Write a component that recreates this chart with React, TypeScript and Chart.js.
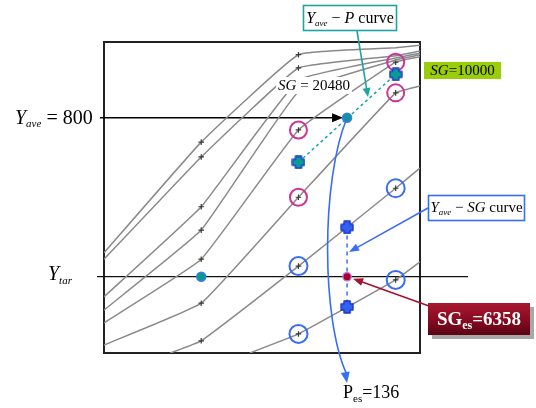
import React, { useEffect, useRef } from "react";
import { Chart, registerables } from "chart.js";

Chart.register(...registerables);

// ---- data -------------------------------------------------------------
// P columns of the experiment grid and the plotted ranges
const pColumns = [112, 128, 144];
const pAxisRange = [96, 148];
const yAxisRange = [356, 943];
const yAve = 800;
const yTar = 500;
const pEs = 136;
const sgTopLabel = "20480";
const sgMidLabel = "10000";
const sgEsValue = "6358";

// grey Y–P curves (one per SG value), points as [P, Y]
const curveA = [[96, 545], [112, 754], [128, 919], [144, 932], [148, 937]];
const curveB = [[96, 533], [112, 726], [128, 894], [144, 917], [148, 926]];
const curveC = [[96, 462], [112, 632], [128, 871], [144, 913], [148, 922]];
const curveD = [[96, 437], [112, 588], [128, 849], [144, 909], [148, 919]];
const curveE = [[96, 413], [112, 533], [128, 777], [144, 905], [148, 915]];
const curveF = [[96, 371], [112, 450], [128, 650], [144, 847], [148, 860]];
const curveG = [[106.9, 356], [112, 379], [128, 520], [144, 667], [148, 705]];
const curveH = [[120, 356], [128, 392], [144, 494], [148, 528]];
const greyCurves = [curveA, curveB, curveC, curveD, curveE, curveF, curveG, curveH];
// which P columns carry a visible "+" mark on each curve
const curveMarks = [
  [112, 128],
  [112, 128],
  [112],
  [112],
  [112, 128, 144],
  [112, 128, 144],
  [112, 128, 144],
  [128, 144],
];

// interpolated curves and marked points
const yAvePCurve = [[128, 716], [144, 882]];
const yAveSgCurve = [[136, 593], [136, 443]];
const pinkMarked = [[128, 777], [128, 650], [144, 905], [144, 847]];
const blueMarked = [[128, 520], [128, 392], [144, 667], [144, 494]];
const tealDots = [[pEs, yAve], [112, yTar]];
const sgEsDot = [[pEs, yTar]];

// ---- helpers ----------------------------------------------------------
const SERIF = '"Liberation Serif", "Times New Roman", "DejaVu Serif", serif';
const fnt = (size: number, style = "") => `${style} ${size}px ${SERIF}`.trim();
type Part = { t: string; f: string; dy?: number };

function richWidth(ctx: CanvasRenderingContext2D, parts: Part[]) {
  let w = 0;
  for (const p of parts) {
    ctx.font = p.f;
    w += ctx.measureText(p.t).width;
  }
  return w;
}
function drawRich(ctx: CanvasRenderingContext2D, parts: Part[], x: number, y: number, color: string) {
  ctx.fillStyle = color;
  ctx.textAlign = "left";
  ctx.textBaseline = "alphabetic";
  let cx = x;
  for (const p of parts) {
    ctx.font = p.f;
    ctx.fillText(p.t, cx, y + (p.dy || 0));
    cx += ctx.measureText(p.t).width;
  }
}
function arrowHead(ctx: CanvasRenderingContext2D, x1: number, y1: number, x2: number, y2: number, len: number, hw: number, color: string) {
  const a = Math.atan2(y2 - y1, x2 - x1);
  const bx = x2 - len * Math.cos(a);
  const by = y2 - len * Math.sin(a);
  ctx.beginPath();
  ctx.moveTo(x2, y2);
  ctx.lineTo(bx + hw * Math.sin(a), by - hw * Math.cos(a));
  ctx.lineTo(bx - hw * Math.sin(a), by + hw * Math.cos(a));
  ctx.closePath();
  ctx.fillStyle = color;
  ctx.fill();
}
function arrow(ctx: CanvasRenderingContext2D, x1: number, y1: number, x2: number, y2: number, color: string, w: number, len: number, hw: number) {
  const a = Math.atan2(y2 - y1, x2 - x1);
  ctx.beginPath();
  ctx.moveTo(x1, y1);
  ctx.lineTo(x2 - (len - 1) * Math.cos(a), y2 - (len - 1) * Math.sin(a));
  ctx.strokeStyle = color;
  ctx.lineWidth = w;
  ctx.setLineDash([]);
  ctx.stroke();
  arrowHead(ctx, x1, y1, x2, y2, len, hw, color);
}
function plusCanvas(fill: string, stroke: string) {
  const s = 14;
  const c = document.createElement("canvas");
  c.width = s;
  c.height = s;
  const g = c.getContext("2d")!;
  const m = s / 2;
  const arm = 6.2 / 2;
  const r = 6;
  g.beginPath();
  g.moveTo(m - arm, m - r);
  g.lineTo(m + arm, m - r);
  g.lineTo(m + arm, m - arm);
  g.lineTo(m + r, m - arm);
  g.lineTo(m + r, m + arm);
  g.lineTo(m + arm, m + arm);
  g.lineTo(m + arm, m + r);
  g.lineTo(m - arm, m + r);
  g.lineTo(m - arm, m + arm);
  g.lineTo(m - r, m + arm);
  g.lineTo(m - r, m - arm);
  g.lineTo(m - arm, m - arm);
  g.closePath();
  g.fillStyle = fill;
  g.fill();
  g.lineJoin = "round";
  g.lineWidth = 1.3;
  g.strokeStyle = stroke;
  g.stroke();
  return c;
}
const toXY = (arr: number[][]) => arr.map(([x, y]) => ({ x, y }));

// ---- annotation plugin ------------------------------------------------
const overlayPlugin = {
  id: "overlay",
  beforeDatasetsDraw(chart: any) {
    const { ctx, chartArea: a, scales } = chart;
    const X = (v: number) => scales.x.getPixelForValue(v);
    const Y = (v: number) => scales.y.getPixelForValue(v);
    ctx.save();
    // frame
    ctx.strokeStyle = "#222";
    ctx.lineWidth = 2;
    ctx.strokeRect(a.left, a.top, a.right - a.left, a.bottom - a.top);
    // Y_tar line
    ctx.beginPath();
    ctx.moveTo(a.left - 7, Y(yTar));
    ctx.lineTo(a.right + 48, Y(yTar));
    ctx.strokeStyle = "#111";
    ctx.lineWidth = 1.3;
    ctx.stroke();
    // Y_ave arrow
    arrow(ctx, a.left - 4, Y(yAve), X(pEs) - 4, Y(yAve), "#000", 1.6, 11, 4.5);
    ctx.restore();
  },
  afterDatasetsDraw(chart: any) {
    const { ctx, chartArea: a, scales } = chart;
    const X = (v: number) => scales.x.getPixelForValue(v);
    const Y = (v: number) => scales.y.getPixelForValue(v);
    ctx.save();

    // left labels
    drawRich(ctx, [
      { t: "Y", f: fnt(20, "italic") },
      { t: "ave", f: fnt(11, "italic"), dy: 3 },
      { t: " = 800", f: fnt(20) },
    ], 15, Y(yAve) + 6, "#000");
    drawRich(ctx, [
      { t: "Y", f: fnt(20, "italic") },
      { t: "tar", f: fnt(11, "italic"), dy: 4 },
    ], 48, Y(yTar) + 3, "#000");

    // SG = 20480 label with white background
    const sgTop: Part[] = [
      { t: "SG", f: fnt(15, "italic") },
      { t: " = " + sgTopLabel, f: fnt(15) },
    ];
    const wTop = richWidth(ctx, sgTop);
    ctx.fillStyle = "#fff";
    ctx.fillRect(314 - wTop / 2 - 2, 77, wTop + 4, 17);
    drawRich(ctx, sgTop, 314 - wTop / 2, 90, "#000");

    // Y_ave – P curve box
    const teal = "#1fa3a3";
    ctx.fillStyle = "#fff";
    ctx.fillRect(303, 5, 94, 25);
    ctx.strokeStyle = teal;
    ctx.lineWidth = 1.6;
    ctx.strokeRect(303.5, 5.5, 93, 25);
    const tealParts: Part[] = [
      { t: "Y", f: fnt(16, "italic") },
      { t: "ave", f: fnt(9, "italic"), dy: 3 },
      { t: " \u2212 ", f: fnt(16) },
      { t: "P", f: fnt(16, "italic") },
      { t: " curve", f: fnt(16) },
    ];
    drawRich(ctx, tealParts, 350 - richWidth(ctx, tealParts) / 2, 23, "#000");
    arrow(ctx, 357, 31, 368, 97, teal, 1.6, 9, 4);

    // SG = 10000 green tag
    ctx.fillStyle = "#9acd0a";
    ctx.fillRect(424, 62, 77, 17);
    const greenParts: Part[] = [
      { t: "SG", f: fnt(15, "italic") },
      { t: "=" + sgMidLabel, f: fnt(15) },
    ];
    drawRich(ctx, greenParts, 462.5 - richWidth(ctx, greenParts) / 2, 75, "#000");

    // Y_ave – SG curve box
    const blue = "#3a6cf4";
    ctx.fillStyle = "#fff";
    ctx.fillRect(428, 195, 97, 25);
    ctx.strokeStyle = blue;
    ctx.lineWidth = 1.6;
    ctx.strokeRect(428.5, 195.5, 96, 25);
    const blueParts: Part[] = [
      { t: "Y", f: fnt(15, "italic") },
      { t: "ave", f: fnt(9, "italic"), dy: 3 },
      { t: " \u2212 ", f: fnt(15) },
      { t: "SG", f: fnt(15, "italic") },
      { t: " curve", f: fnt(15) },
    ];
    drawRich(ctx, blueParts, 476.5 - richWidth(ctx, blueParts) / 2, 212, "#000");
    arrow(ctx, 428, 208, X(pEs) + 2, 252, blue, 1.5, 10, 4);

    // SG_es = 6358 box
    ctx.fillStyle = "#a8a8a8";
    ctx.fillRect(432, 307, 102, 32);
    const grad = ctx.createLinearGradient(0, 303, 0, 335);
    grad.addColorStop(0, "#a8182f");
    grad.addColorStop(0.5, "#8a0b22");
    grad.addColorStop(1, "#5a0414");
    ctx.fillStyle = grad;
    ctx.fillRect(428, 303, 102, 32);
    const redParts: Part[] = [
      { t: "SG", f: fnt(19, "bold") },
      { t: "es", f: fnt(12, "bold"), dy: 4 },
      { t: "=" + sgEsValue, f: fnt(19, "bold") },
    ];
    drawRich(ctx, redParts, 479 - richWidth(ctx, redParts) / 2, 325, "#fff");
    arrow(ctx, 429, 306, X(pEs) + 6, Y(yTar) + 2, "#a8102e", 1.6, 10, 4);

    // blue arc from the P estimate down to the P axis
    const sx = X(pEs), sy = Y(yAve);
    const ex = X(pEs), ey = a.bottom + 30;
    const c1x = sx - 26, c1y = sy + 62, c2x = sx - 26, c2y = a.bottom - 33;
    ctx.beginPath();
    ctx.moveTo(sx, sy);
    ctx.bezierCurveTo(c1x, c1y, c2x, c2y, ex, ey - 8);
    ctx.strokeStyle = blue;
    ctx.lineWidth = 1.6;
    ctx.stroke();
    arrowHead(ctx, ex - 2.5, ey - 15, ex, ey, 11, 4.5, blue);

    // P_es label
    drawRich(ctx, [
      { t: "P", f: fnt(18) },
      { t: "es", f: fnt(11), dy: 4 },
      { t: "=" + pEs, f: fnt(18) },
    ], 343, 398, "#000");

    ctx.restore();
  },
};

// ---- component --------------------------------------------------------
export default function App() {
  const ref = useRef<HTMLCanvasElement | null>(null);
  useEffect(() => {
    if (!ref.current) return;
    const tealPlus = plusCanvas("#0a9b94", "#1b2fd0");
    const bluePlus = plusCanvas("#2f62f2", "#1a2fc0");
    const greyDatasets = greyCurves.map((c, i) => ({
      data: toXY(c),
      showLine: true,
      borderColor: "#8a8a8a",
      borderWidth: 1.5,
      tension: 0.1,
      pointStyle: "cross",
      pointRadius: (ctx: any) => (curveMarks[i].includes(ctx.raw?.x) ? 2.8 : 0),
      pointBorderColor: "#3a3a3a",
      pointBorderWidth: 1.2,
      order: 10,
    }));
    const chart = new Chart(ref.current, {
      type: "scatter",
      data: {
        datasets: [
          {
            data: toXY(sgEsDot),
            pointRadius: 4.2,
            pointBackgroundColor: "#a3002c",
            pointBorderColor: "#c27ae0",
            pointBorderWidth: 1.3,
            order: 1,
          },
          {
            data: toXY(tealDots),
            pointRadius: 4.5,
            pointBackgroundColor: "#0a9a8c",
            pointBorderColor: "#3b7bf0",
            pointBorderWidth: 1.5,
            order: 1,
          },
          {
            data: toXY(yAvePCurve),
            showLine: true,
            borderColor: "#1fa3a3",
            borderWidth: 1.5,
            borderDash: [3, 3],
            pointStyle: tealPlus,
            pointRadius: 6,
            order: 2,
          },
          {
            data: toXY(yAveSgCurve),
            showLine: true,
            borderColor: "#3a6cf4",
            borderWidth: 1.5,
            borderDash: [4, 4],
            pointStyle: bluePlus,
            pointRadius: 6,
            order: 2,
          },
          {
            data: toXY(pinkMarked),
            pointRadius: 8.5,
            pointBackgroundColor: "rgba(0,0,0,0)",
            pointBorderColor: "#cc3399",
            pointBorderWidth: 2,
            order: 3,
          },
          {
            data: toXY(blueMarked),
            pointRadius: 9,
            pointBackgroundColor: "rgba(0,0,0,0)",
            pointBorderColor: "#3a6cf4",
            pointBorderWidth: 2,
            order: 3,
          },
          ...greyDatasets,
        ],
      },
      options: {
        responsive: false,
        animation: false,
        layout: { padding: { left: 104, right: 116, top: 42, bottom: 55 } },
        plugins: { legend: { display: false }, tooltip: { enabled: false } },
        scales: {
          x: { type: "linear", min: pAxisRange[0], max: pAxisRange[1], display: false },
          y: { type: "linear", min: yAxisRange[0], max: yAxisRange[1], display: false },
        },
      },
      plugins: [overlayPlugin],
    } as any);
    return () => chart.destroy();
  }, []);
  return (
    <div style={{ position: "fixed", left: 0, top: 0, width: 536, height: 408, background: "#fff" }}>
      <canvas ref={ref} width={536} height={408} style={{ width: 536, height: 408, display: "block" }} />
    </div>
  );
}
